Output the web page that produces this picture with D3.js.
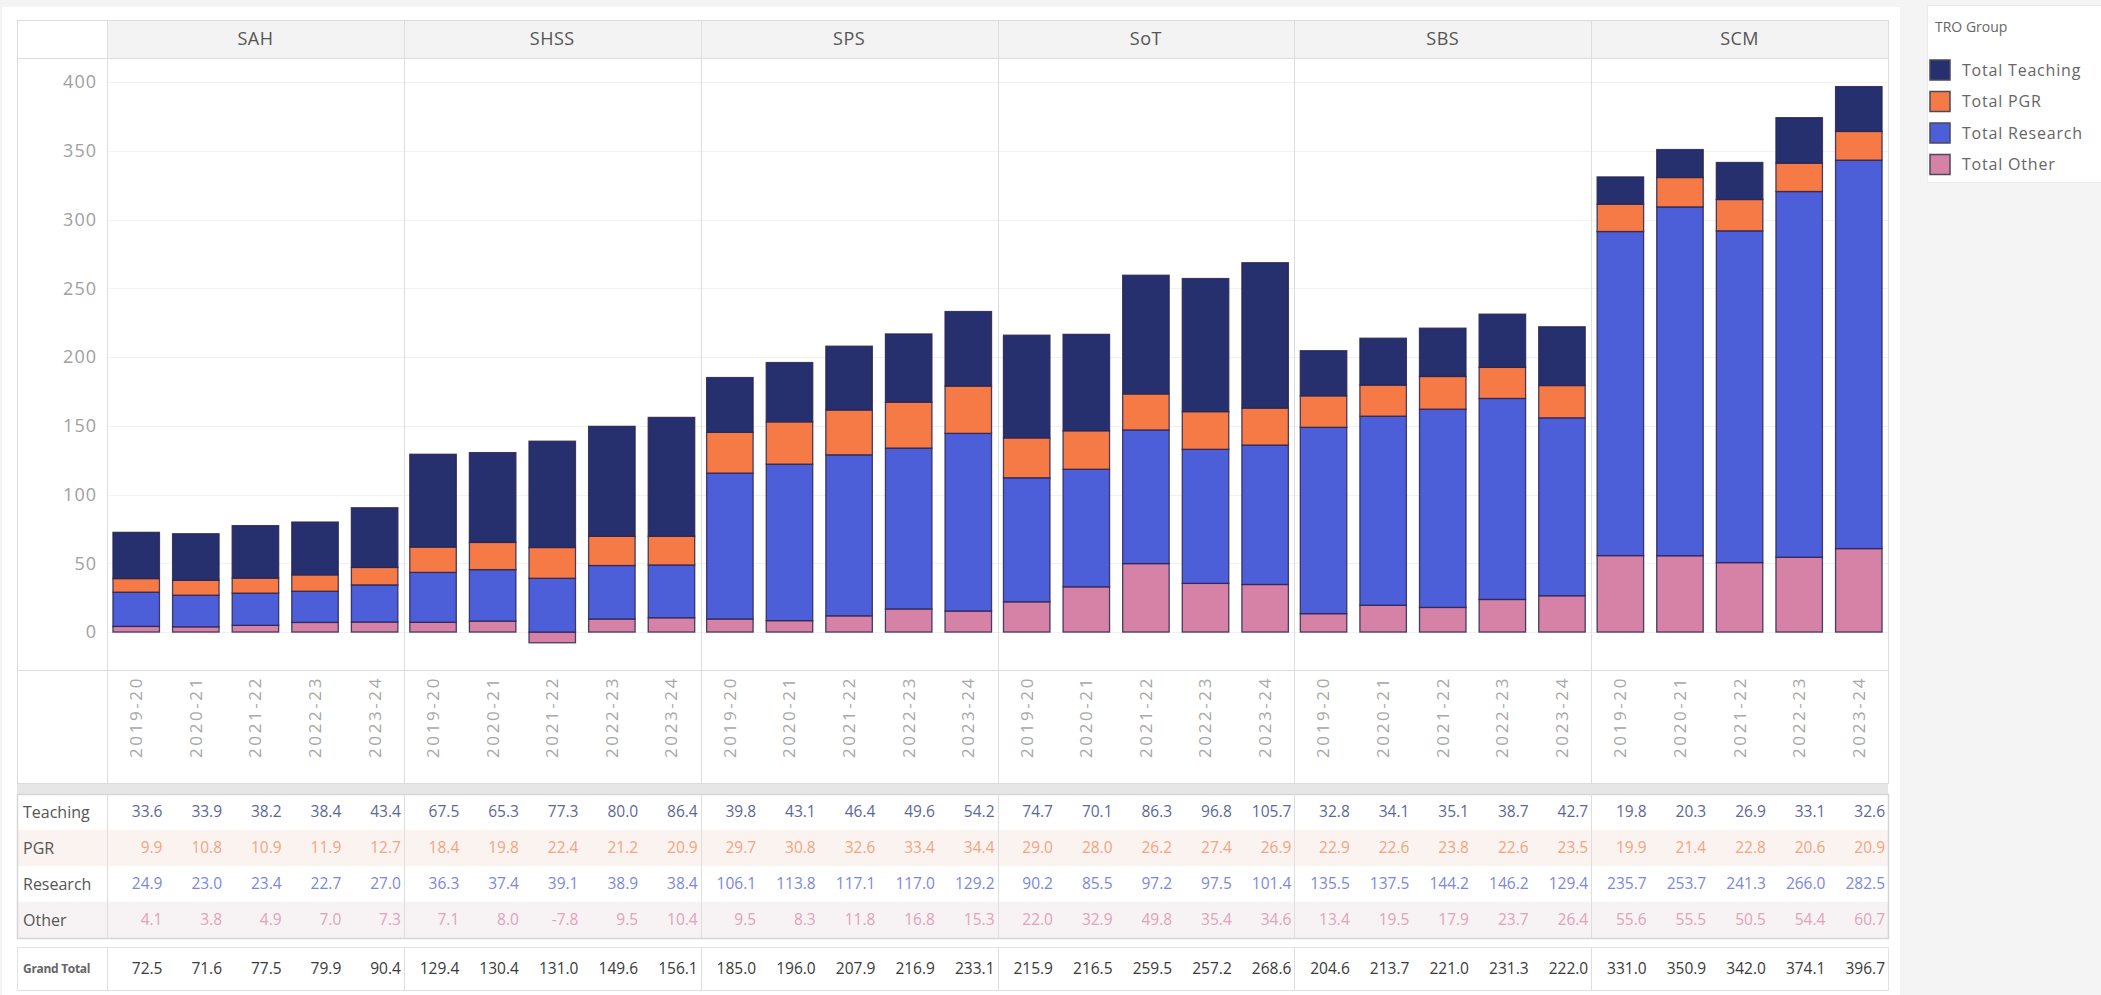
<!DOCTYPE html>
<html>
<head>
<meta charset="utf-8">
<script src="https://cdn.jsdelivr.net/npm/d3@7"></script>
<style>
  html, body { margin: 0; padding: 0; background: #f4f4f4; }
  svg { display: block; font-family: "Open Sans", "Noto Sans", sans-serif; }
</style>
</head>
<body>
<svg id="chart" width="2101" height="995"></svg>
<script>
// Staff FTE by school and academic year, split into TRO groups
const schools = ["SAH", "SHSS", "SPS", "SoT", "SBS", "SCM"];
const years = ["2019-20", "2020-21", "2021-22", "2022-23", "2023-24"];
const yTicks = [0, 50, 100, 150, 200, 250, 300, 350, 400];

const teaching = [
  [33.6, 33.9, 38.2, 38.4, 43.4],
  [67.5, 65.3, 77.3, 80.0, 86.4],
  [39.8, 43.1, 46.4, 49.6, 54.2],
  [74.7, 70.1, 86.3, 96.8, 105.7],
  [32.8, 34.1, 35.1, 38.7, 42.7],
  [19.8, 20.3, 26.9, 33.1, 32.6]
];
const pgr = [
  [9.9, 10.8, 10.9, 11.9, 12.7],
  [18.4, 19.8, 22.4, 21.2, 20.9],
  [29.7, 30.8, 32.6, 33.4, 34.4],
  [29.0, 28.0, 26.2, 27.4, 26.9],
  [22.9, 22.6, 23.8, 22.6, 23.5],
  [19.9, 21.4, 22.8, 20.6, 20.9]
];
const research = [
  [24.9, 23.0, 23.4, 22.7, 27.0],
  [36.3, 37.4, 39.1, 38.9, 38.4],
  [106.1, 113.8, 117.1, 117.0, 129.2],
  [90.2, 85.5, 97.2, 97.5, 101.4],
  [135.5, 137.5, 144.2, 146.2, 129.4],
  [235.7, 253.7, 241.3, 266.0, 282.5]
];
const other = [
  [4.1, 3.8, 4.9, 7.0, 7.3],
  [7.1, 8.0, -7.8, 9.5, 10.4],
  [9.5, 8.3, 11.8, 16.8, 15.3],
  [22.0, 32.9, 49.8, 35.4, 34.6],
  [13.4, 19.5, 17.9, 23.7, 26.4],
  [55.6, 55.5, 50.5, 54.4, 60.7]
];
const grandTotal = [
  [72.5, 71.6, 77.5, 79.9, 90.4],
  [129.4, 130.4, 131.0, 149.6, 156.1],
  [185.0, 196.0, 207.9, 216.9, 233.1],
  [215.9, 216.5, 259.5, 257.2, 268.6],
  [204.6, 213.7, 221.0, 231.3, 222.0],
  [331.0, 350.9, 342.0, 374.1, 396.7]
];

// Series in stacking order (bottom to top)
const seriesKeys = ["Total Other", "Total Research", "Total PGR", "Total Teaching"];
const seriesData = { "Total Teaching": teaching, "Total PGR": pgr, "Total Research": research, "Total Other": other };
const colors = {
  "Total Teaching": "#27306f",
  "Total PGR": "#f57a46",
  "Total Research": "#4d5ed9",
  "Total Other": "#d682a6"
};
const legendOrder = ["Total Teaching", "Total PGR", "Total Research", "Total Other"];

// Table rows under the chart
const tableRows = [
  { label: "Teaching", values: teaching, color: "#5b6899", bg: "#ffffff" },
  { label: "PGR", values: pgr, color: "#f2a582", bg: "#faf3ef" },
  { label: "Research", values: research, color: "#7c87de", bg: "#ffffff" },
  { label: "Other", values: other, color: "#e0a3ba", bg: "#f7f2f3" }
];

const fmt = v => v.toFixed(1);

const svg = d3.select("#chart");

// layout
const L = {
  panelX: 2, panelY: 7, panelR: 1900,
  left: 17, axisR: 107, right: 1888,
  headTop: 20, headBot: 58,
  plotBot: 670, labBot: 783,
  rowH: 36, tabFirst: 794,
  gtTop: 947, gtBot: 990
};
const paneW = (L.right - L.axisR) / schools.length;

// background panel
svg.append("rect").attr("x", L.panelX).attr("y", L.panelY)
  .attr("width", L.panelR - L.panelX).attr("height", 995 - L.panelY)
  .attr("fill", "#ffffff");

// scales
const y = d3.scaleLinear().domain([-27.6, 417.5]).range([L.plotBot, L.headBot]);
const paneX = d3.scaleBand().domain(schools).range([L.axisR, L.right]).padding(0);
const x = d3.scaleBand().domain(years).range([0, paneW]).paddingInner(0.22).paddingOuter(0.1);

// header row
svg.append("rect").attr("x", L.axisR).attr("y", L.headTop)
  .attr("width", L.right - L.axisR).attr("height", L.headBot - L.headTop)
  .attr("fill", "#f3f3f3");
svg.selectAll("text.head").data(schools).join("text")
  .attr("class", "head")
  .attr("x", d => paneX(d) + paneW / 2)
  .attr("y", (L.headTop + L.headBot) / 2)
  .attr("dy", "0.35em")
  .attr("text-anchor", "middle")
  .attr("font-size", 18)
  .attr("letter-spacing", 0.5)
  .attr("fill", "#555")
  .text(d => d);

// gridlines
svg.append("g").selectAll("line").data(yTicks).join("line")
  .attr("x1", L.axisR).attr("x2", L.right)
  .attr("y1", d => Math.round(y(d)) + 0.5).attr("y2", d => Math.round(y(d)) + 0.5)
  .attr("stroke", "#f1f1f1").attr("stroke-width", 1);

// y axis
const yAxis = d3.axisLeft(y).tickValues(yTicks).tickSize(0).tickPadding(10);
const gy = svg.append("g").attr("transform", `translate(${L.axisR},0)`).call(yAxis);
gy.select(".domain").remove();
gy.selectAll("text").attr("font-size", 18).attr("fill", "#a0a0a0")
  .attr("font-family", "'Open Sans', sans-serif").attr("letter-spacing", 1);

// stacked bars
const stack = d3.stack().keys(seriesKeys).offset(d3.stackOffsetDiverging);

schools.forEach((school, si) => {
  const rows = years.map((yr, yi) => {
    const r = { year: yr };
    seriesKeys.forEach(k => { r[k] = seriesData[k][si][yi]; });
    return r;
  });
  const stacked = stack(rows);
  const g = svg.append("g").attr("transform", `translate(${paneX(school)},0)`);

  g.selectAll("g.series").data(stacked).join("g")
    .attr("class", "series")
    .attr("fill", d => colors[d.key])
    .selectAll("rect").data(d => d).join("rect")
      .attr("x", d => x(d.data.year))
      .attr("width", x.bandwidth())
      .attr("y", d => y(Math.max(d[0], d[1])))
      .attr("height", d => Math.abs(y(d[0]) - y(d[1])))
      .attr("stroke", "#2a2550")
      .attr("stroke-opacity", 0.85)
      .attr("stroke-width", 1.3);

  // rotated year labels
  const xAxis = d3.axisBottom(x).tickSize(0).tickPadding(0);
  const gx = g.append("g").attr("transform", `translate(0,${L.plotBot + 6})`).call(xAxis);
  gx.select(".domain").remove();
  gx.selectAll("text")
    .attr("transform", "rotate(-90)")
    .attr("text-anchor", "end")
    .attr("x", 0).attr("y", 0).attr("dy", "0.35em")
    .attr("font-size", 17)
    .attr("letter-spacing", 2.6)
    .attr("font-family", "'Open Sans', sans-serif")
    .attr("fill", "#a8a8a8");
});

// table rows
tableRows.forEach((row, ri) => {
  const top = L.tabFirst + ri * L.rowH;
  svg.append("rect").attr("x", L.left).attr("y", top)
    .attr("width", L.right - L.left).attr("height", L.rowH)
    .attr("fill", row.bg);
  svg.append("text")
    .attr("x", L.left + 6).attr("y", top + L.rowH / 2).attr("dy", "0.35em")
    .attr("font-size", 16).attr("fill", "#555")
    .text(row.label);
  schools.forEach((school, si) => {
    svg.append("g").selectAll("text").data(row.values[si]).join("text")
      .attr("x", (d, i) => paneX(school) + x(years[i]) + x.bandwidth() + 3)
      .attr("y", top + L.rowH / 2).attr("dy", "0.35em")
      .attr("text-anchor", "end")
      .attr("font-size", 15.5)
      .attr("fill", row.color)
      .text(fmt);
  });
});

// grand total row
svg.append("text")
  .attr("x", L.left + 6).attr("y", (L.gtTop + L.gtBot) / 2).attr("dy", "0.35em")
  .attr("font-size", 12).attr("font-weight", "bold").attr("fill", "#666")
  .attr("letter-spacing", -0.3)
  .text("Grand Total");
schools.forEach((school, si) => {
  svg.append("g").selectAll("text").data(grandTotal[si]).join("text")
    .attr("x", (d, i) => paneX(school) + x(years[i]) + x.bandwidth() + 3)
    .attr("y", (L.gtTop + L.gtBot) / 2).attr("dy", "0.35em")
    .attr("text-anchor", "end")
    .attr("font-size", 15.5)
    .attr("fill", "#3a3a3a")
    .text(fmt);
});

// frame lines
const lines = svg.append("g").attr("fill", "none");
// chart outer border
lines.append("rect").attr("x", L.left + 0.5).attr("y", L.headTop + 0.5)
  .attr("width", L.right - L.left).attr("height", L.labBot - L.headTop)
  .attr("stroke", "#dcdcdc");
// header bottom and plot bottom
[L.headBot, L.plotBot].forEach(v => {
  lines.append("line").attr("x1", L.left).attr("x2", L.right)
    .attr("y1", v + 0.5).attr("y2", v + 0.5).attr("stroke", "#dcdcdc");
});
// band between chart and table
lines.append("rect").attr("x", L.left).attr("y", L.labBot + 1)
  .attr("width", L.right - L.left).attr("height", L.tabFirst - L.labBot - 1)
  .attr("fill", "#e6e6e6");
// table border
lines.append("rect").attr("x", L.left + 0.5).attr("y", L.tabFirst + 0.5)
  .attr("width", L.right - L.left).attr("height", L.rowH * 4)
  .attr("stroke", "#d6d6d6").attr("stroke-width", 1.5);
// grand total box
lines.append("rect").attr("x", L.left + 0.5).attr("y", L.gtTop + 0.5)
  .attr("width", L.right - L.left).attr("height", L.gtBot - L.gtTop)
  .attr("stroke", "#e2e2e2");
// vertical separators
const vx = [L.axisR].concat(schools.slice(1).map(s => paneX(s)));
vx.forEach(v => {
  [[L.headTop, L.labBot], [L.tabFirst, L.tabFirst + L.rowH * 4], [L.gtTop, L.gtBot]].forEach(([a, b]) => {
    lines.append("line").attr("x1", Math.round(v) + 0.5).attr("x2", Math.round(v) + 0.5)
      .attr("y1", a).attr("y2", b).attr("stroke", "#dedede");
  });
});

// legend
const lg = svg.append("g").attr("transform", "translate(1927,5)");
lg.append("rect").attr("x", 0.5).attr("y", 0.5).attr("width", 180).attr("height", 177)
  .attr("fill", "#ffffff").attr("stroke", "#ececec");
lg.append("text").attr("x", 8).attr("y", 27).attr("font-size", 14).attr("fill", "#666")
  .text("TRO Group");
legendOrder.forEach((k, i) => {
  const ry = 55 + i * 31.5;
  lg.append("rect").attr("x", 3).attr("y", ry).attr("width", 20).attr("height", 20)
    .attr("fill", colors[k]).attr("stroke", "#4a4a5a").attr("stroke-width", 1.5);
  lg.append("text").attr("x", 35).attr("y", ry + 10).attr("dy", "0.35em")
    .attr("font-size", 16).attr("letter-spacing", 0.8).attr("fill", "#666")
    .text(k);
});
</script>
</body>
</html>
